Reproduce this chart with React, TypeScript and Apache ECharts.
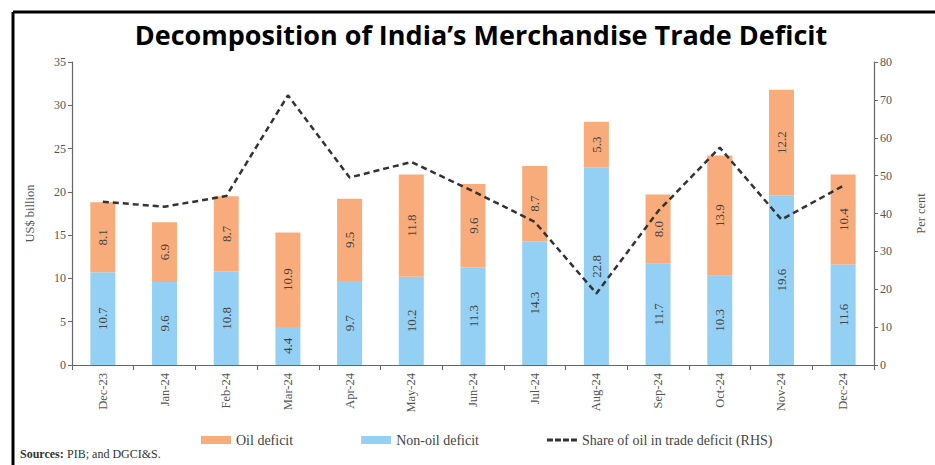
import React, { useEffect, useRef } from "react";
import * as echarts from "echarts";

const categories = ["Dec-23", "Jan-24", "Feb-24", "Mar-24", "Apr-24", "May-24", "Jun-24", "Jul-24", "Aug-24", "Sep-24", "Oct-24", "Nov-24", "Dec-24"];
const nonOilDeficit = [10.7, 9.6, 10.8, 4.4, 9.7, 10.2, 11.3, 14.3, 22.8, 11.7, 10.3, 19.6, 11.6];
const oilDeficit = [8.1, 6.9, 8.7, 10.9, 9.5, 11.8, 9.6, 8.7, 5.3, 8.0, 13.9, 12.2, 10.4];
const oilShare = [43.1, 41.8, 44.6, 71.2, 49.5, 53.6, 45.9, 37.8, 18.9, 40.6, 57.4, 38.4, 47.3];

const SERIF = "'Liberation Serif', 'DejaVu Serif', serif";
const AXIS_COLOR = "#666";
const LABEL_COLOR = "#555";

export default function App() {
  const ref = useRef<HTMLDivElement>(null);
  useEffect(() => {
    if (!ref.current) return;
    const chart = echarts.init(ref.current, null, { renderer: "svg" });
    const barLabel = {
      show: true,
      position: "inside",
      rotate: 90,
      color: "#444",
      fontFamily: SERIF,
      fontSize: 13,
      formatter: (p: any) => Number(p.value).toFixed(1),
    };
    chart.setOption({
      animation: false,
      backgroundColor: "#fff",
      title: {
        text: "Decomposition of India\u2019s Merchandise Trade Deficit",
        left: 476,
        textAlign: "center",
        top: 16,
        textStyle: { fontFamily: "'Open Sans', Lato, sans-serif", fontWeight: "bold", fontSize: 27, color: "#000" },
      },
      graphic: [
        { type: "line", shape: { x1: 13, y1: 12, x2: 935, y2: 12 }, style: { stroke: "#000", lineWidth: 3 } },
        { type: "line", shape: { x1: 13, y1: 12, x2: 13, y2: 465 }, style: { stroke: "#000", lineWidth: 3 } },
        {
          type: "text",
          left: 20,
          top: 448,
          style: {
            rich: {
              b: { fontFamily: SERIF, fontWeight: "bold", fontSize: 12, fill: "#333" },
              n: { fontFamily: SERIF, fontSize: 12, fill: "#333" },
            },
            text: "{b|Sources:} {n|PIB; and DGCI&S.}",
          },
        },
      ],
      legend: {
        top: 428,
        left: 196,
        itemGap: 68,
        itemWidth: 30,
        itemHeight: 8,
        textStyle: { fontFamily: SERIF, fontSize: 14, color: "#444" },
        data: [
          { name: "Oil deficit", icon: "rect" },
          { name: "Non-oil deficit", icon: "rect" },
          { name: "Share of oil in trade deficit (RHS)", icon: "path://M0 0H6V3H0Z M8 0H14V3H8Z M16 0H22V3H16Z M24 0H30V3H24Z" },
        ],
      },
      grid: { left: 72, right: 58, top: 62, bottom: 100 },
      xAxis: {
        type: "category",
        data: categories,
        axisLine: { lineStyle: { color: AXIS_COLOR, width: 1.2 } },
        axisTick: { show: true, length: 5, lineStyle: { color: AXIS_COLOR } },
        axisLabel: { rotate: 90, color: LABEL_COLOR, fontFamily: SERIF, fontSize: 12.5, margin: 8 },
      },
      yAxis: [
        {
          type: "value",
          min: 0,
          max: 35,
          interval: 5,
          name: "US$ billion",
          nameLocation: "middle",
          nameRotate: 90,
          nameGap: 36,
          nameTextStyle: { fontFamily: SERIF, fontSize: 12.5, color: LABEL_COLOR },
          axisLine: { show: true, lineStyle: { color: AXIS_COLOR, width: 1.2 } },
          axisTick: { show: true, length: 4, lineStyle: { color: AXIS_COLOR } },
          axisLabel: { color: LABEL_COLOR, fontFamily: SERIF, fontSize: 12, margin: 6 },
          splitLine: { show: false },
        },
        {
          type: "value",
          min: 0,
          max: 80,
          interval: 10,
          position: "right",
          name: "Per cent",
          nameLocation: "middle",
          nameRotate: 90,
          nameGap: 40,
          nameTextStyle: { fontFamily: SERIF, fontSize: 12.5, color: LABEL_COLOR },
          axisLine: { show: true, lineStyle: { color: AXIS_COLOR, width: 1.2 } },
          axisTick: { show: true, length: 4, lineStyle: { color: AXIS_COLOR } },
          axisLabel: { color: LABEL_COLOR, fontFamily: SERIF, fontSize: 12, margin: 6 },
          splitLine: { show: false },
        },
      ],
      series: [
        {
          name: "Non-oil deficit",
          type: "bar",
          stack: "deficit",
          data: nonOilDeficit,
          barWidth: 25,
          itemStyle: { color: "#94D0F3" },
          label: barLabel,
        },
        {
          name: "Oil deficit",
          type: "bar",
          stack: "deficit",
          data: oilDeficit,
          barWidth: 25,
          itemStyle: { color: "#F9AC7B" },
          label: barLabel,
        },
        {
          name: "Share of oil in trade deficit (RHS)",
          type: "line",
          yAxisIndex: 1,
          data: oilShare,
          symbol: "none",
          z: 5,
          lineStyle: { color: "#333", width: 2.5, type: [6, 4] },
          itemStyle: { color: "#333" },
        },
      ],
    });
    return () => chart.dispose();
  }, []);
  return <div ref={ref} style={{ position: "fixed", left: 0, top: 0, width: 935, height: 465 }} />;
}
